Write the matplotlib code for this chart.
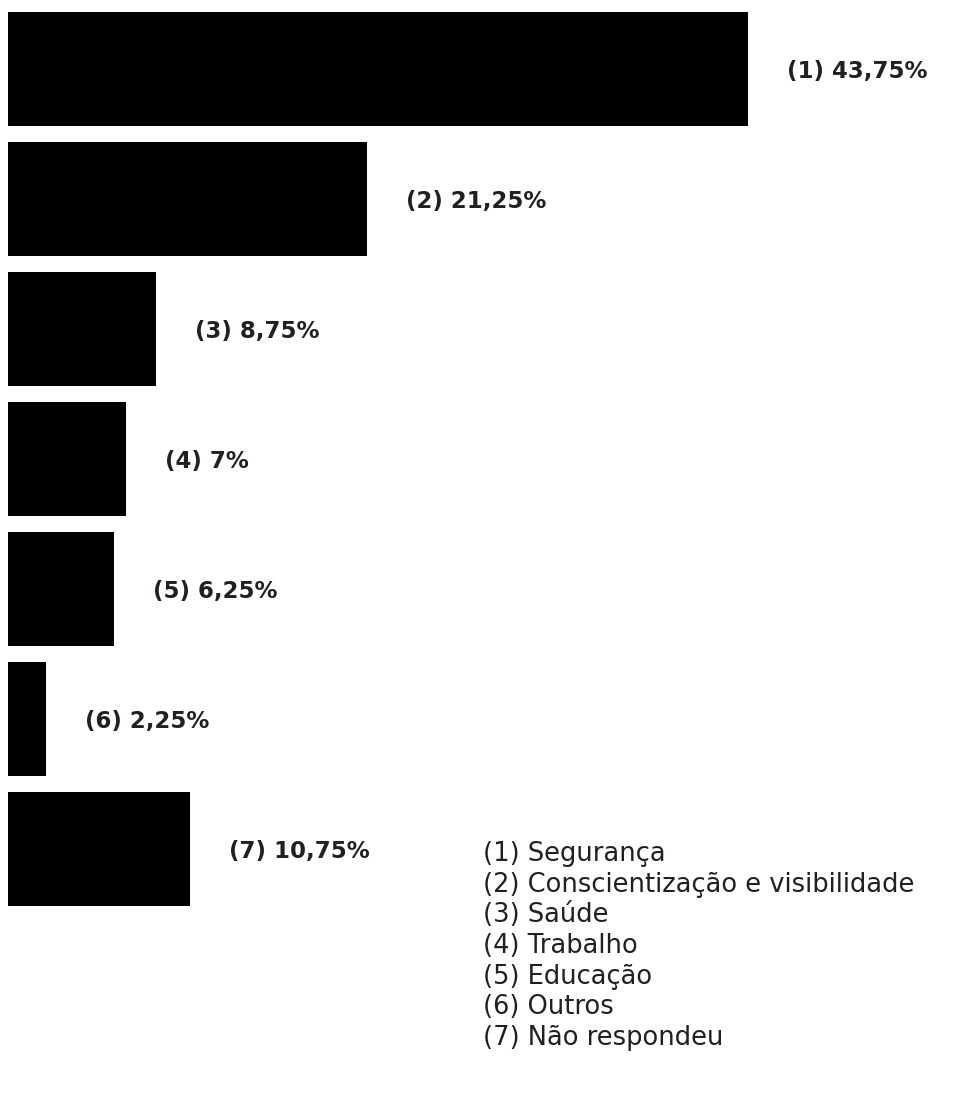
import matplotlib.pyplot as plt

# dados do gráfico
categorias = ["Segurança", "Conscientização e visibilidade", "Saúde",
              "Trabalho", "Educação", "Outros", "Não respondeu"]
valores = [43.75, 21.25, 8.75, 7, 6.25, 2.25, 10.75]
rotulos = ["43,75%", "21,25%", "8,75%", "7%", "6,25%", "2,25%", "10,75%"]

plt.rcParams['font.family'] = ['DejaVu Sans']

fig = plt.figure(figsize=(9.75, 11.05), dpi=100)
ax = fig.add_axes([8 / 975, 0, 967 / 975, 1])
ax.set_xlim(0, 43.75 * 967 / 740)
ax.set_ylim(1105, 0)
ax.axis('off')

ys = [69 + 130 * i for i in range(len(valores))]
ax.barh(ys, valores, height=114, color='black')

for i, (v, y) in enumerate(zip(valores, ys)):
    ax.annotate("(%d) %s" % (i + 1, rotulos[i]), xy=(v, y), xytext=(28, -2),
                textcoords='offset points', va='center', ha='left',
                fontsize=16.5, fontweight='bold', color='#231f20')

# legenda
for i, c in enumerate(categorias):
    fig.text(483 / 975, 1 - (854 + 30.7 * i) / 1105, "(%d) %s" % (i + 1, c),
             va='center', ha='left', fontsize=18.5, color='#231f20')

fig.savefig('out.png', dpi=100)
